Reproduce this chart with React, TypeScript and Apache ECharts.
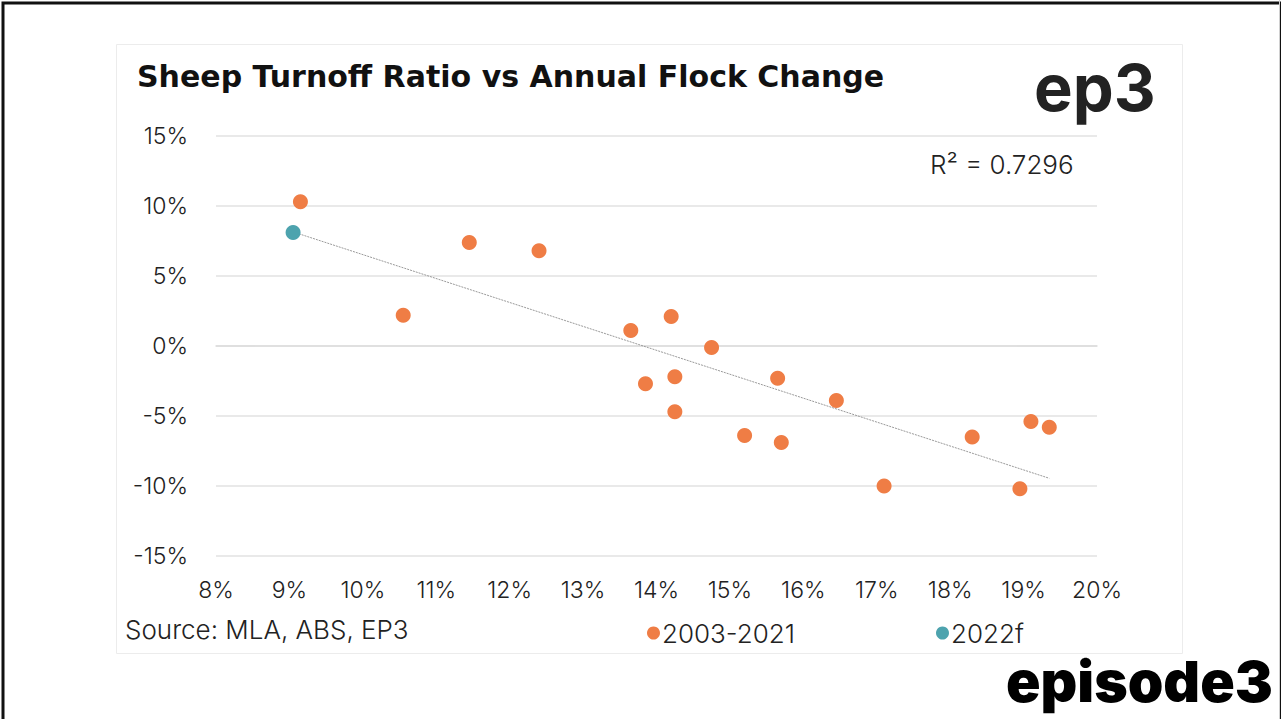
import React, { useEffect, useRef } from "react";
import * as echarts from "echarts";

const TITLE = "Sheep Turnoff Ratio vs Annual Flock Change";
const SOURCE = "Source: MLA, ABS, EP3";
const R2_LABEL = "R² = 0.7296";

// Turnoff ratio (%) and annual flock change (%)
const histTurnoff = [9.15, 11.45, 12.4, 10.55, 13.65, 14.2, 14.75, 13.85, 14.25, 15.65, 16.45, 14.25, 15.2, 15.7, 17.1, 18.3, 19.1, 19.35, 18.95];
const histFlock = [10.3, 7.4, 6.8, 2.2, 1.1, 2.1, -0.1, -2.7, -2.2, -2.3, -3.9, -4.7, -6.4, -6.9, -10.0, -6.5, -5.4, -5.8, -10.2];
const fcTurnoff = [9.05];
const fcFlock = [8.1];
const trendX = [9.05, 19.35];
const trendY = [8.15, -9.45];

const ORANGE = "#EF7D45";
const TEAL = "#4DA3AE";
const FONT = "Inter, 'Open Sans', sans-serif";

export default function App() {
  const ref = useRef<HTMLDivElement>(null);
  useEffect(() => {
    if (!ref.current) return;
    const chart = echarts.init(ref.current, undefined, { renderer: "svg" });
    const legendText = { fontSize: 26, color: "#222", fontFamily: FONT, fontWeight: 300, padding: [0, 0, 0, -3] };
    chart.setOption({
      animation: false,
      backgroundColor: "#ffffff",
      textStyle: { fontFamily: FONT },
      grid: { left: 216, right: 184, top: 136, bottom: 163, containLabel: false },
      xAxis: {
        type: "value",
        min: 8,
        max: 20,
        interval: 1,
        axisLine: { show: true, lineStyle: { color: "#dcdcdc", width: 1.5 } },
        axisTick: { show: false },
        splitLine: { show: false },
        axisLabel: { formatter: "{value}%", fontSize: 23, fontWeight: 300, color: "#222", margin: 22, fontFamily: FONT },
      },
      yAxis: {
        type: "value",
        min: -15,
        max: 15,
        interval: 5,
        axisLine: { show: false },
        axisTick: { show: false },
        splitLine: { show: true, lineStyle: { color: "#e2e2e2", width: 1.5 } },
        axisLabel: { formatter: "{value}%", fontSize: 23, fontWeight: 300, color: "#222", margin: 28, fontFamily: FONT },
      },
      legend: [
        {
          data: [{ name: "2003-2021", icon: "circle" }],
          left: 642,
          top: 615,
          itemWidth: 13,
          itemHeight: 13,
          textStyle: legendText,
        },
        {
          data: [{ name: "2022f", icon: "circle" }],
          left: 931,
          top: 615,
          itemWidth: 13,
          itemHeight: 13,
          textStyle: legendText,
        },
      ],
      series: [
        {
          name: "trend",
          type: "line",
          data: trendX.map((x, i) => [x, trendY[i]]),
          symbol: "none",
          lineStyle: { color: "#9a9a9a", width: 1, type: [2, 1] },
          z: 1,
          silent: true,
        },
        {
          name: "2003-2021",
          type: "scatter",
          symbolSize: 15,
          itemStyle: { color: ORANGE, opacity: 1 },
          data: histTurnoff.map((x, i) => [x, histFlock[i]]),
          z: 3,
        },
        {
          name: "2022f",
          type: "scatter",
          symbolSize: 15,
          itemStyle: { color: TEAL, opacity: 1 },
          data: fcTurnoff.map((x, i) => [x, fcFlock[i]]),
          z: 2,
        },
      ],
      graphic: [
        { type: "rect", shape: { x: 3, y: 3, width: 1278, height: 730 }, style: { fill: "none", stroke: "#111", lineWidth: 3 }, z: 0 },
        { type: "line", shape: { x1: 1279.5, y1: 0, x2: 1279.5, y2: 719 }, style: { stroke: "#d0d0d0", lineWidth: 1 } },
        { type: "rect", shape: { x: 116.5, y: 44.5, width: 1066, height: 609 }, style: { fill: "none", stroke: "#ececec", lineWidth: 1 }, z: 0 },
        {
          type: "text",
          left: 137,
          top: 61,
          style: { text: TITLE, fontSize: 30, fontWeight: "bold", fill: "#111", fontFamily: "'DejaVu Sans', sans-serif" },
        },
        {
          type: "text",
          left: 1034,
          top: 55,
          style: { text: "ep3", fontSize: 65, fontWeight: 700, fill: "#222", fontFamily: FONT, letterSpacing: -3 },
        },
        {
          type: "text",
          left: 930,
          top: 151,
          style: { text: R2_LABEL, fontSize: 26, fontWeight: 300, fill: "#222", fontFamily: FONT },
        },
        {
          type: "text",
          left: 125,
          top: 616,
          style: { text: SOURCE, fontSize: 26, fontWeight: 300, fill: "#222", fontFamily: FONT, letterSpacing: 1.2 },
        },
        {
          type: "text",
          left: 1006,
          top: 653,
          style: { text: "episode3", fontSize: 57, fontWeight: 900, fill: "#000", fontFamily: FONT, letterSpacing: -2.5 },
        },
      ],
    });
    return () => chart.dispose();
  }, []);
  return (
    <div
      ref={ref}
      style={{ position: "fixed", left: 0, top: 0, width: 1281, height: 719, background: "#fff" }}
    />
  );
}
